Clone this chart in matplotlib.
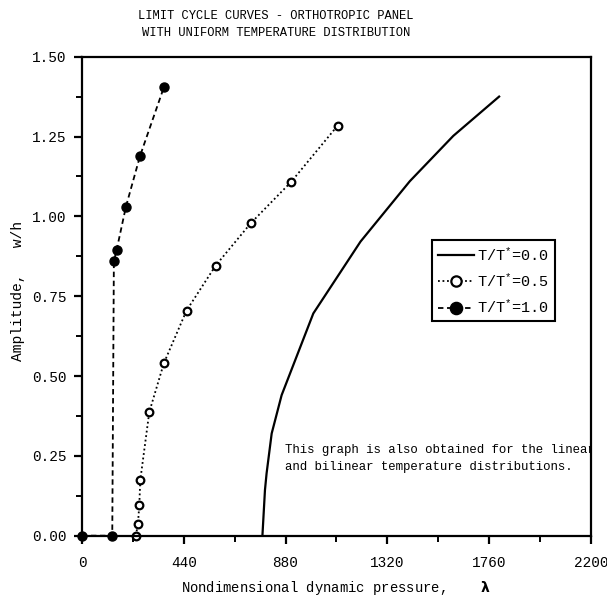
import matplotlib
matplotlib.use("Agg")
import matplotlib.pyplot as plt
from matplotlib.ticker import MultipleLocator, FormatStrFormatter

plt.rcParams['font.family'] = ['Liberation Mono', 'DejaVu Sans Mono']
plt.rcParams['mathtext.fontset'] = 'custom'
plt.rcParams['mathtext.rm'] = 'Liberation Mono'
plt.rcParams['mathtext.it'] = 'Liberation Mono'

# T/T* = 0.0  (solid line, no markers)
lam_0 = [780, 791, 798, 820, 863, 1000, 1204, 1417, 1605, 1803]
amp_0 = [0.0, 0.143, 0.195, 0.32, 0.44, 0.696, 0.921, 1.11, 1.252, 1.375]

# T/T* = 0.5  (dotted, open circles)
lam_05 = [233, 242, 248, 252, 291, 354, 452, 578, 729, 903, 1105]
amp_05 = [0.0, 0.037, 0.097, 0.173, 0.387, 0.540, 0.705, 0.846, 0.978, 1.107, 1.284]

# T/T* = 1.0  (dashed, filled circles)
lam_10 = [0, 131, 138, 150, 190, 251, 354]
amp_10 = [0.0, 0.0, 0.859, 0.895, 1.03, 1.189, 1.404]

labels = [r'T/T$^{*}$=0.0', r'T/T$^{*}$=0.5', r'T/T$^{*}$=1.0']

fig = plt.figure(figsize=(6.07, 6.01), dpi=100)
ax = fig.add_axes([0.135, 0.1087, 0.8386, 0.797])

ax.plot(lam_0, amp_0, color='black', lw=1.6, label=labels[0])
ax.plot(lam_05, amp_05, color='black', lw=1.3, ls=(0, (1, 1.5)),
        marker='o', ms=5.5, mfc='white', mec='black', mew=1.6,
        label=labels[1], clip_on=False)
ax.plot(lam_10, amp_10, color='black', lw=1.3, ls=(0, (3, 2)),
        marker='o', ms=6.5, mfc='black', mec='black',
        label=labels[2], clip_on=False)

ax.set_xlim(0, 2200)
ax.set_ylim(0, 1.5)
ax.xaxis.set_major_locator(MultipleLocator(440))
ax.xaxis.set_minor_locator(MultipleLocator(220))
ax.yaxis.set_major_locator(MultipleLocator(0.25))
ax.yaxis.set_minor_locator(MultipleLocator(0.125))
ax.yaxis.set_major_formatter(FormatStrFormatter('%.2f'))
ax.tick_params(which='major', direction='out', length=6, width=1.6,
               labelsize=10.4, pad=5)
ax.tick_params(axis='x', which='major', pad=8.5)
ax.tick_params(which='minor', direction='out', length=4, width=1.4)
for s in ax.spines.values():
    s.set_linewidth(1.6)

ax.set_xlabel(r'Nondimensional dynamic pressure,    $\mathbf{\lambda}$',
              fontsize=10)
ax.xaxis.set_label_coords(0.5, -0.09)
ax.set_ylabel('Amplitude,   w/h', fontsize=10.5)
ax.yaxis.set_label_coords(-0.112, 0.51)

leg = ax.legend(loc='upper left', bbox_to_anchor=(0.688, 0.617),
                borderaxespad=0, fancybox=False, edgecolor='black',
                framealpha=1, fontsize=11, handlelength=2.4,
                handletextpad=0.2, borderpad=0.35, labelspacing=0.55,
                markerscale=1.35)
leg.get_frame().set_linewidth(1.5)

ax.text(877, 0.287,
        'This graph is also obtained for the linear\n'
        'and bilinear temperature distributions.',
        fontsize=8.9, ha='left', va='top', linespacing=1.5, clip_on=True)

fig.text(0.455, 0.983, 'LIMIT CYCLE CURVES - ORTHOTROPIC PANEL\n'
         'WITH UNIFORM TEMPERATURE DISTRIBUTION',
         ha='center', va='top', fontsize=8.7, linespacing=1.5)

fig.savefig('out.png', dpi=100)
